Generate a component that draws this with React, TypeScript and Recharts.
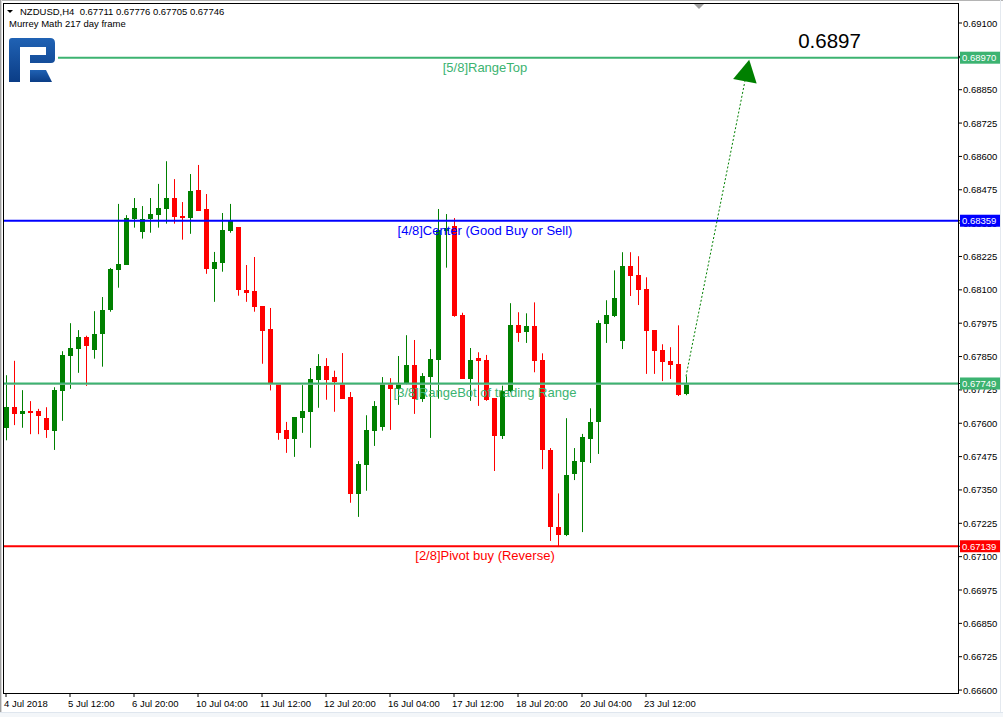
import React from "react";
import { ComposedChart, Bar, XAxis, YAxis, ReferenceLine, ReferenceDot } from "recharts";

// NZDUSD H4 candles (4 Jul 2018 .. 24 Jul 2018)
const opens = [
  0.67584, 0.6766, 0.67635, 0.67645, 0.67645, 0.67619, 0.67572, 0.67722, 0.67853, 0.67879,
  0.67923, 0.67875, 0.67935, 0.68024, 0.68175, 0.68194, 0.68367, 0.68318, 0.68367, 0.68382,
  0.68404, 0.68444, 0.68377, 0.6837, 0.68474, 0.68403, 0.68179, 0.68202, 0.68322, 0.68335,
  0.68099, 0.68095, 0.68039, 0.67953, 0.67747, 0.67574, 0.67542, 0.6762, 0.67643, 0.67763,
  0.67814, 0.67773, 0.67748, 0.67698, 0.67335, 0.67444, 0.67572, 0.67587, 0.67748, 0.67729,
  0.67748, 0.67818, 0.67692, 0.67774, 0.67838, 0.68319, 0.68339, 0.68007, 0.67766, 0.67844,
  0.67836, 0.67694, 0.67552, 0.6772, 0.67967, 0.67942, 0.67963, 0.67836, 0.675, 0.67213,
  0.67181, 0.6741, 0.67455, 0.67541, 0.67605, 0.67972, 0.68001, 0.67908, 0.68188, 0.68155,
  0.68102, 0.67948, 0.67873, 0.67832, 0.67822, 0.67711,
];
const highs = [
  0.6778, 0.67834, 0.67724, 0.67683, 0.67654, 0.6766, 0.67735, 0.6787, 0.67975, 0.67949,
  0.67928, 0.6802, 0.68073, 0.68182, 0.68422, 0.6838, 0.68444, 0.68414, 0.68444, 0.68497,
  0.68582, 0.68515, 0.68429, 0.68534, 0.68568, 0.68459, 0.68242, 0.68388, 0.68422, 0.68335,
  0.68193, 0.68223, 0.68039, 0.68032, 0.67747, 0.67605, 0.67623, 0.67743, 0.67807, 0.67859,
  0.67844, 0.67797, 0.67863, 0.67717, 0.67458, 0.6763, 0.67683, 0.67773, 0.67769, 0.67852,
  0.6793, 0.67912, 0.67788, 0.67878, 0.68403, 0.68384, 0.68369, 0.68014, 0.67882, 0.67866,
  0.67856, 0.67694, 0.67741, 0.6805, 0.68016, 0.68012, 0.68053, 0.67862, 0.67507, 0.67337,
  0.67619, 0.67507, 0.6756, 0.67656, 0.67986, 0.68061, 0.68173, 0.68241, 0.68241, 0.68226,
  0.68147, 0.67948, 0.67896, 0.67885, 0.67967, 0.67776,
];
const lows = [
  0.67536, 0.67593, 0.67583, 0.67559, 0.67559, 0.67545, 0.675, 0.67609, 0.67729, 0.67789,
  0.6774, 0.67842, 0.67812, 0.68018, 0.68108, 0.68194, 0.68333, 0.68292, 0.68314, 0.68333,
  0.68348, 0.68348, 0.68288, 0.6831, 0.68397, 0.6816, 0.68055, 0.68168, 0.68314, 0.68078,
  0.68055, 0.68018, 0.67823, 0.67723, 0.67538, 0.67489, 0.67474, 0.67564, 0.67508, 0.67658,
  0.67688, 0.67643, 0.67692, 0.67302, 0.67249, 0.67347, 0.67515, 0.67572, 0.67575, 0.67669,
  0.67744, 0.67635, 0.6768, 0.67545, 0.67692, 0.68183, 0.67999, 0.67767, 0.67684, 0.67665,
  0.67684, 0.67421, 0.67541, 0.67716, 0.67905, 0.67901, 0.67791, 0.67428, 0.67159, 0.67136,
  0.67177, 0.67387, 0.67192, 0.67451, 0.67485, 0.67901, 0.67998, 0.67878, 0.68077, 0.68043,
  0.67785, 0.67785, 0.67758, 0.67766, 0.67702, 0.67705,
];
const closes = [
  0.67661, 0.67635, 0.67645, 0.67639, 0.67628, 0.67575, 0.67724, 0.67855, 0.67882, 0.67923,
  0.6789, 0.67934, 0.68024, 0.68178, 0.68197, 0.68369, 0.68407, 0.68365, 0.68384, 0.68407,
  0.68444, 0.68374, 0.6837, 0.6847, 0.68397, 0.68179, 0.68204, 0.68324, 0.68357, 0.68098,
  0.68089, 0.68037, 0.67947, 0.67749, 0.67564, 0.67542, 0.67623, 0.67645, 0.67765, 0.67814,
  0.67763, 0.67755, 0.67692, 0.67335, 0.67447, 0.67574, 0.67664, 0.6775, 0.67729, 0.67748,
  0.67818, 0.67692, 0.67777, 0.6784, 0.68324, 0.68332, 0.68003, 0.67767, 0.67836, 0.67835,
  0.67686, 0.67552, 0.6772, 0.67967, 0.67938, 0.67963, 0.67833, 0.675, 0.67211, 0.67181,
  0.67405, 0.67457, 0.67547, 0.67603, 0.67975, 0.68005, 0.68068, 0.68188, 0.68152, 0.681,
  0.67945, 0.67871, 0.6783, 0.67818, 0.67706, 0.67746,
];

const dateTickBars = [0, 8, 16, 24, 32, 40, 48, 56, 64, 72, 80];
const dateLabels = [
  "4 Jul 2018", "5 Jul 12:00", "6 Jul 20:00", "10 Jul 04:00", "11 Jul 12:00", "12 Jul 20:00",
  "16 Jul 04:00", "17 Jul 12:00", "18 Jul 20:00", "20 Jul 04:00", "23 Jul 12:00",
];

const priceTicks = [
  0.691, 0.68975, 0.6885, 0.68725, 0.686, 0.68475, 0.6835, 0.68225, 0.681, 0.67975, 0.6785,
  0.67725, 0.676, 0.67475, 0.6735, 0.67225, 0.671, 0.66975, 0.6685, 0.66725, 0.666,
];

const levelPrices = [0.6897, 0.68359, 0.67749, 0.67139];
const levelNames = [
  "[5/8]RangeTop",
  "[4/8]Center (Good Buy or Sell)",
  "[3/8]RangeBot of trading Range",
  "[2/8]Pivot buy (Reverse)",
];
const levelColors = ["#3cb371", "#0000ff", "#3cb371", "#ff0000"];

const bidPrice = 0.67746;
const targetPrice = 0.6897;
const targetBar = 92.9;
const targetLabelBar = 102.94;

const FONT = "'Liberation Sans', Arial, sans-serif";

const candles = opens.map((o, i) => ({
  i,
  open: o,
  high: highs[i],
  low: lows[i],
  close: closes[i],
}));

function Candle(props: any) {
  const { x, y, width, height } = props;
  const d = props.payload ?? props;
  const top = Math.min(y, y + height);
  const h = Math.abs(height);
  const cx = Math.round(x + width / 2) + 0.5;
  const py = (v: number) => top + ((d.high - v) / (d.high - d.low || 1)) * h;
  const color = d.close >= d.open ? "#008000" : "#ff0000";
  const bTop = Math.round(py(Math.max(d.open, d.close)));
  const bBot = Math.round(py(Math.min(d.open, d.close)));
  return (
    <g>
      <line x1={cx} x2={cx} y1={top} y2={top + h} stroke={color} strokeWidth={1} />
      <rect x={cx - 2.5} y={bTop} width={5} height={Math.max(bBot - bTop, 1)} fill={color} />
    </g>
  );
}

function LevelLabel(props: any) {
  const { viewBox, name, color } = props;
  if (!viewBox) return null;
  const { x, y, width } = viewBox;
  return (
    <text x={x + width / 2 + 4} y={y + 14} textAnchor="middle" fill={color} fontSize={13} fontFamily={FONT}>
      {name}
    </text>
  );
}

function DateTick(props: any) {
  const { x, y, payload } = props;
  const label = dateLabels[dateTickBars.indexOf(payload.value)];
  return (
    <text x={x - 2} y={y + 8} fontSize={9.5} fontFamily={FONT} fill="#000">
      {label}
    </text>
  );
}

// level prices come last in the tick list, so their coloured boxes are drawn over the plain labels
function PriceTick(props: any) {
  const { x, y, payload } = props;
  const v = Number(payload.value);
  const k = levelPrices.indexOf(v);
  if (k >= 0) {
    return (
      <g>
        <rect x={x - 3} y={y - 6} width={41} height={12} fill={levelColors[k]} />
        <text x={x - 1} y={y + 3.5} fontSize={9.5} fontFamily={FONT} fill="#fff">
          {v.toFixed(5)}
        </text>
      </g>
    );
  }
  return (
    <text x={x} y={y + 3.5} fontSize={9.5} fontFamily={FONT} fill="#000">
      {v.toFixed(5)}
    </text>
  );
}

function ArrowShape(props: any) {
  const { x1, y1, x2, y2 } = props;
  const tipY = y2 + 2;
  const dx = x2 - x1;
  const dy = tipY - y1;
  const len = Math.hypot(dx, dy) || 1;
  const ux = dx / len;
  const uy = dy / len;
  const bx = x2 - ux * 22;
  const by = tipY - uy * 22;
  const nx = -uy;
  const ny = ux;
  const pts = `${x2},${tipY} ${bx + nx * 12},${by + ny * 12} ${bx - nx * 12},${by - ny * 12}`;
  return (
    <g>
      <line x1={x1} y1={y1} x2={bx} y2={by} stroke="#008000" strokeWidth={1} strokeDasharray="2 2" />
      <polygon points={pts} fill="#008000" />
    </g>
  );
}

function TargetText(props: any) {
  const { cx, cy } = props;
  return (
    <text x={cx} y={cy - 10} textAnchor="middle" fontSize={20.5} fontFamily={FONT} fill="#000">
      {targetPrice.toFixed(4)}
    </text>
  );
}

function Overlay() {
  return (
    <svg width={1003} height={717} style={{ position: "absolute", left: 0, top: 0, pointerEvents: "none" }}>
      <defs>
        <linearGradient id="logoGrad" x1="0" y1="0" x2="0" y2="1">
          <stop offset="0%" stopColor="#2062b4" />
          <stop offset="100%" stopColor="#0b3d86" />
        </linearGradient>
      </defs>
      {/* window edges */}
      <line x1={0} y1={0.5} x2={1003} y2={0.5} stroke="#b4b4b4" />
      <line x1={0.5} y1={0} x2={0.5} y2={712} stroke="#a0a0a0" />
      <line x1={1.5} y1={0} x2={1.5} y2={712} stroke="#d8d8d8" />
      <line x1={0} y1={712.5} x2={1003} y2={712.5} stroke="#dfe6ee" />
      <rect x={0} y={713} width={1003} height={4} fill="#f3f6f9" />
      <line x1={1000.5} y1={0} x2={1000.5} y2={712} stroke="#e4e9ef" />
      {/* plot frame */}
      <rect x={3.5} y={3.5} width={955} height={690} fill="none" stroke="#000" />
      {/* chart shift marker */}
      <polygon points="694,4 704,4 699,9" fill="#a0a0a0" />
      {/* logo */}
      <rect x={4} y={30} width={54} height={58} fill="#fff" />
      <path
        d="M9,41 Q9,38 12,38 L50,38 Q55,38 55,43 L55,59 Q55,63 51,63 L30,63 L30,55 L46,55 L46,47 L20,47 L20,82 L9,82 Z"
        fill="url(#logoGrad)"
      />
      <path d="M30,70 L46,70 L52,82 L30,82 Z" fill="url(#logoGrad)" />
      {/* title */}
      <polygon points="7,10 13,10 10,13" fill="#000" />
      <text x={20} y={15} fontSize={9.5} fontFamily={FONT} fill="#000">
        NZDUSD,H4{"\u00a0\u00a0"}0.67711 0.67776 0.67705 0.67746
      </text>
      <text x={9} y={27} fontSize={9.5} fontFamily={FONT} fill="#000">
        Murrey Math 217 day frame
      </text>
    </svg>
  );
}

export default function App() {
  const last = candles.length - 1;
  return (
    <div style={{ position: "absolute", left: 0, top: 0, width: 1003, height: 717, background: "#fff" }}>
      <ComposedChart
        width={1003}
        height={717}
        data={candles}
        margin={{ top: 3, right: 0, bottom: 0, left: 4 }}
        style={{ fontFamily: FONT }}
      >
        <XAxis
          dataKey="i"
          type="number"
          domain={[-0.25, 119]}
          ticks={dateTickBars}
          interval={0}
          allowDataOverflow
          height={24}
          tickSize={4}
          axisLine={false}
          tickLine={{ stroke: "#000" }}
          tick={<DateTick />}
        />
        <YAxis
          orientation="right"
          type="number"
          domain={[0.66589, 0.69175]}
          ticks={[...priceTicks, ...levelPrices]}
          interval={0}
          allowDataOverflow
          width={45}
          tickSize={4}
          tickMargin={1}
          axisLine={false}
          tickLine={{ stroke: "#000" }}
          tick={<PriceTick />}
        />
        <ReferenceLine y={bidPrice} stroke="#c0c0c0" strokeWidth={1} />
        {levelPrices.map((p, k) => (
          <ReferenceLine
            key={p}
            y={p}
            stroke={levelColors[k]}
            strokeWidth={2}
            label={<LevelLabel name={levelNames[k]} color={levelColors[k]} />}
          />
        ))}
        <Bar
          dataKey={(d: any) => [d.low, d.high]}
          barSize={5}
          shape={<Candle />}
          isAnimationActive={false}
        />
        <ReferenceLine
          segment={[
            { x: last, y: highs[last] },
            { x: targetBar, y: targetPrice },
          ]}
          ifOverflow="visible"
          shape={<ArrowShape />}
        />
        <ReferenceDot x={targetLabelBar} y={targetPrice} r={0} ifOverflow="visible" shape={<TargetText />} />
      </ComposedChart>
      <Overlay />
    </div>
  );
}
